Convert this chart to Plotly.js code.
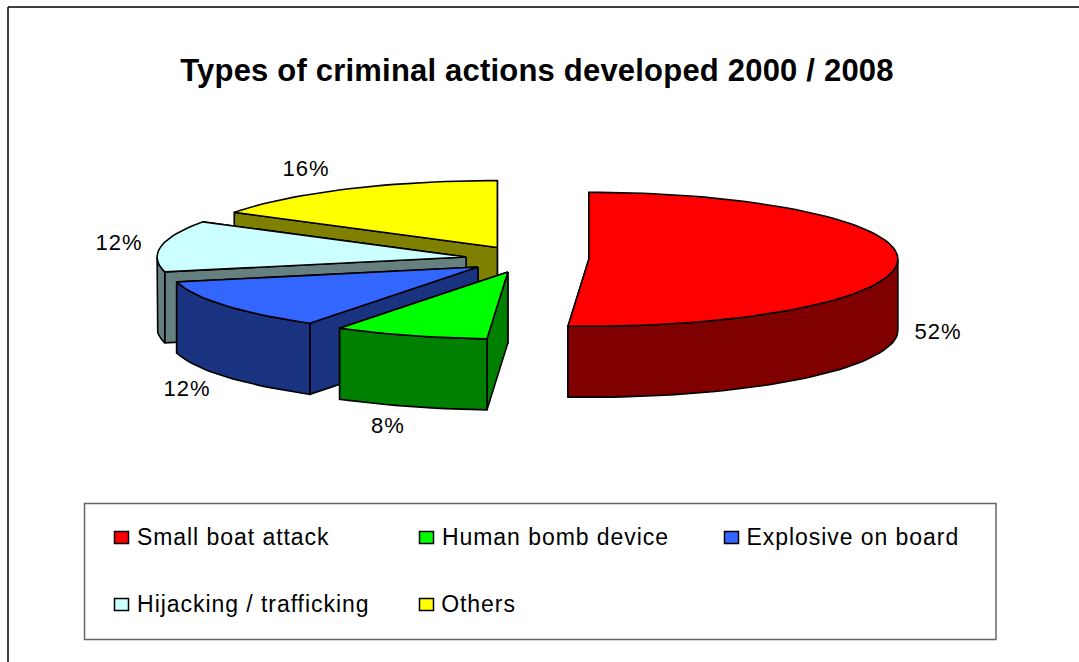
<!DOCTYPE html>
<html>
<head>
<meta charset="utf-8">
<script src="https://cdn.plot.ly/plotly-3.0.1.min.js"></script>
<style>
html,body{margin:0;padding:0;background:#fff}
#chart{width:1079px;height:662px}
#chart .annotation-text{letter-spacing:.95px}
#chart .gtitle{letter-spacing:.2px}
</style>
</head>
<body>
<div id="chart"></div>
<script>
const categories = ["Small boat attack", "Human bomb device", "Explosive on board", "Hijacking / trafficking", "Others"];
const shares = [52, 8, 12, 12, 16];
const topColors = ["#ff0000", "#00ff00", "#3366ff", "#ccffff", "#ffff00"];
const sideColors = ["#800000", "#008000", "#1a3380", "#668080", "#808000"];
const chartTitle = "Types of criminal actions developed 2000 / 2008";

/* pseudo-3D view of an exploded pie, all geometry derived from shares */
const view = {cx: 527, cy: 258.5, rx: 309, ry: 67, depth: 71, warp: 1.67,
              pullX: [62, 52, 58, 62, 61.5], pullY: [12.5, 14.5, 16, 8, 12.5]};
const rad = d => d * Math.PI / 180;
const warp = a => a - view.warp * (1 - Math.cos(rad(a)));      // perspective skew of the angles
const total = shares.reduce((s, v) => s + v, 0);

const traces = [];
const drawOrder = [0, 4, 3, 2, 1];
let acc = 0;
const slices = shares.map((v, i) => {
  const a0 = acc / total * 360; acc += v;
  const a1 = acc / total * 360;
  const mid = rad((a0 + a1) / 2);
  return {i, a0: warp(a0), a1: warp(a1),
          x: view.cx + view.pullX[i] * Math.sin(mid),
          y: view.cy - view.pullY[i] * Math.cos(mid)};
});
const pt = (s, a, dz) => [s.x + view.rx * Math.sin(rad(a)), s.y - view.ry * Math.cos(rad(a)) + dz];
function poly(pts, color, name) {
  traces.push({type: "scatter", mode: "lines", x: pts.map(p => p[0]), y: pts.map(p => p[1]),
    fill: "toself", fillcolor: color, line: {color: "#000", width: 1.6, shape: "linear"},
    hoverinfo: "skip", showlegend: false, name});
}
function arc(s, a, b, dz) {
  const out = [];
  const n = Math.max(2, Math.ceil(Math.abs(b - a) / 2));
  for (let k = 0; k <= n; k++) out.push(pt(s, a + (b - a) * k / n, dz));
  return out;
}
drawOrder.forEach(idx => {
  const s = slices[idx], side = sideColors[idx], d = view.depth, apex = [s.x, s.y], apexB = [s.x, s.y + d];
  poly([apex, pt(s, s.a1, 0), pt(s, s.a1, d), apexB, apex], side, categories[idx]);
  poly([apex, pt(s, s.a0, 0), pt(s, s.a0, d), apexB, apex], side, categories[idx]);
  const r0 = Math.max(s.a0, 90), r1 = Math.min(s.a1, 270);
  if (r1 > r0) {
    const up = arc(s, r0, r1, 0), down = arc(s, r1, r0, d);
    poly(up.concat(down, [up[0]]), side, categories[idx]);
  }
  poly([apex].concat(arc(s, s.a0, s.a1, 0), [apex]), topColors[idx], categories[idx]);
});

const font = "Liberation Sans, Arial, sans-serif";
const labelPos = [[938, 331], [388, 425], [187, 388], [119, 242], [306, 168]];
const annotations = shares.map((v, i) => ({
  x: labelPos[i][0], y: labelPos[i][1], xref: "x", yref: "y", text: v + "%", showarrow: false,
  font: {family: font, size: 22, color: "#000"}, xanchor: "center", yanchor: "middle"
}));
const legendCols = [116, 421, 726], legendRows = [537, 604];
const shapes = [
  {type: "line", xref: "x", yref: "y", x0: 8, x1: 1079, y0: 7, y1: 7, line: {color: "#000", width: 1.5}},
  {type: "line", xref: "x", yref: "y", x0: 8, x1: 8, y0: 7, y1: 662, line: {color: "#000", width: 1.5}},
  {type: "rect", xref: "x", yref: "y", x0: 84.5, x1: 996, y0: 503.5, y1: 639.5, line: {color: "#666", width: 1.5}, fillcolor: "#fff", layer: "below"}
];
categories.forEach((c, i) => {
  const x = legendCols[i % 3], y = legendRows[Math.floor(i / 3)];
  shapes.push({type: "rect", xref: "x", yref: "y", x0: x - 1.5, x1: x + 12.5, y0: y - 5.5, y1: y + 6.5,
    fillcolor: topColors[i], line: {color: "#000", width: 1.5}, layer: "above"});
  annotations.push({x: x + 20 + 0.5 * c.length - 2, y: y, xref: "x", yref: "y", text: c, showarrow: false, xanchor: "left", yanchor: "middle",
    font: {family: font, size: 23, color: "#000"}});
});

const hidden = {visible: false, fixedrange: true};
Plotly.newPlot("chart", traces, {
  width: 1079, height: 662,
  margin: {l: 0, r: 0, t: 0, b: 0},
  paper_bgcolor: "#fff", plot_bgcolor: "#fff",
  showlegend: false,
  title: {text: "<b>" + chartTitle + "</b>", font: {family: font, size: 31, color: "#000"},
          x: 537 / 1079, xanchor: "center", y: 1 - 70 / 662, yanchor: "middle"},
  xaxis: Object.assign({range: [0, 1079]}, hidden),
  yaxis: Object.assign({range: [662, 0]}, hidden),
  shapes, annotations
}, {displayModeBar: false, staticPlot: true});
</script>
</body>
</html>
